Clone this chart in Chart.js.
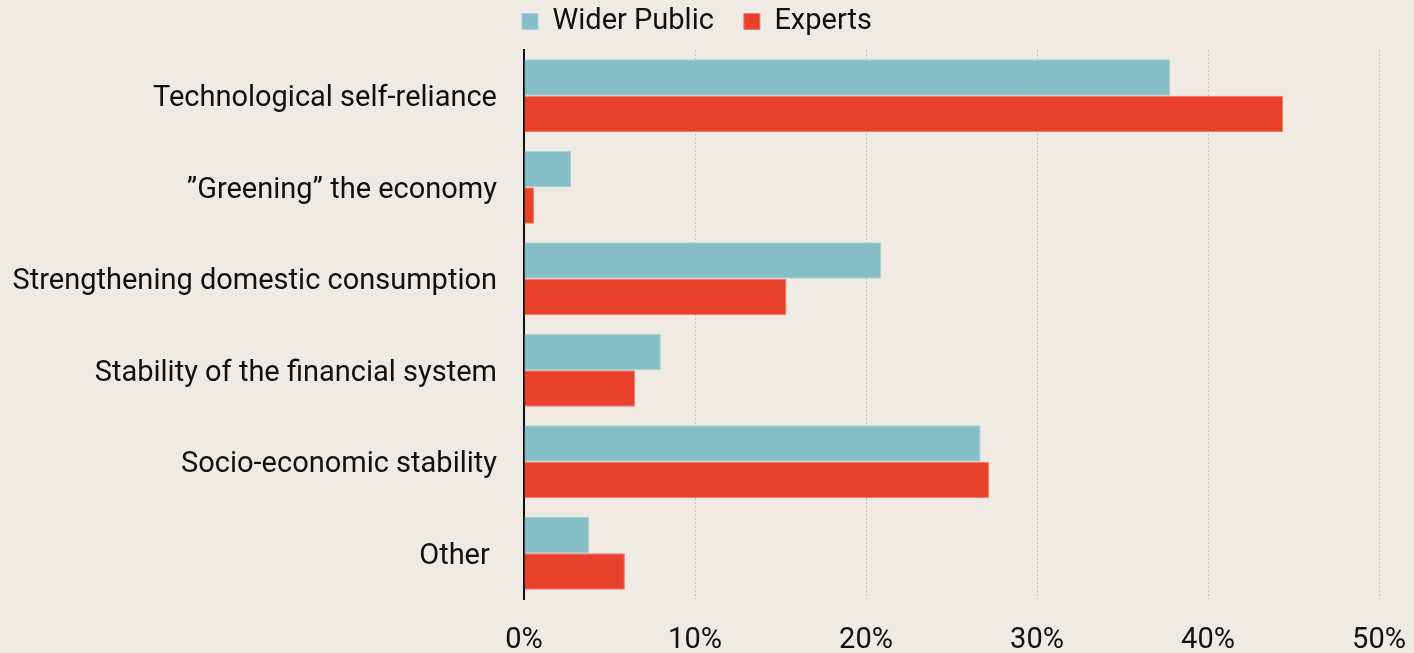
<!DOCTYPE html>
<html>
<head>
<meta charset="utf-8">
<script src="https://cdn.jsdelivr.net/npm/chart.js@4"></script>
<style>
  html, body { margin: 0; padding: 0; background: #efeae4; }
  #wrap { width: 1414px; height: 653px; }
</style>
</head>
<body>
<div id="wrap"><canvas id="barChart" width="1414" height="653"></canvas></div>
<script>
// categories and values (percent of respondents)
const categories = [
    'Technological self-reliance',
    '\u201dGreening\u201d the economy',
    'Strengthening domestic consumption',
    'Stability of the financial system',
    'Socio-economic stability',
    'Other '
];
const widerPublic = [37.8, 2.75, 20.9, 8.0, 26.7, 3.8];
const experts = [44.4, 0.6, 15.35, 6.5, 27.2, 5.9];
const seriesNames = ['Wider Public', 'Experts'];
const tickValues = [0, 10, 20, 30, 40, 50];

const FONT = 'Roboto';
const INK = '#111111';

// move the legend so it starts at the value axis, near the top edge
const legendShift = {
    id: 'legendShift',
    afterLayout(chart) {
        const lg = chart.legend;
        const pad = lg.options.labels.padding;
        lg.left = chart.chartArea.left - 2 - pad;
        lg.top = 7 - pad;
    }
};

let ctx = document.getElementById('barChart').getContext('2d');
let barChart = new Chart(ctx, {
    type: 'bar',
    data: {
        labels: categories,
        datasets: [{
            label: seriesNames[0],
            data: widerPublic,
            backgroundColor: '#86bec6',
            borderColor: '#a9d2d7',
            borderWidth: 1,
            categoryPercentage: 0.8,
            barPercentage: 1.0
        }, {
            label: seriesNames[1],
            data: experts,
            backgroundColor: '#e8402b',
            borderColor: '#f07865',
            borderWidth: 1,
            categoryPercentage: 0.8,
            barPercentage: 1.0
        }]
    },
    options: {
        indexAxis: 'y',
        responsive: false,
        animation: false,
        devicePixelRatio: 1,
        layout: { padding: { left: 0, right: 35, top: 0, bottom: 0 } },
        plugins: {
            legend: {
                position: 'top',
                align: 'start',
                maxHeight: 50,
                labels: {
                    boxWidth: 16,
                    boxHeight: 16,
                    padding: 30,
                    color: INK,
                    font: { family: FONT, size: 29 }
                }
            },
            tooltip: { enabled: false }
        },
        scales: {
            x: {
                min: 0,
                max: 50,
                afterBuildTicks(scale) {
                    scale.ticks = tickValues.map(v => ({ value: v }));
                },
                afterFit(scale) {
                    scale.height = 54;
                    scale.paddingLeft = 0;
                    scale.paddingRight = 0;
                },
                ticks: {
                    padding: 24,
                    color: INK,
                    font: { family: FONT, size: 29 },
                    callback: v => v + '%'
                },
                grid: {
                    drawTicks: false,
                    color: '#c6c2bd',
                    lineWidth: 1
                },
                border: { display: false, dash: [2, 2] }
            },
            y: {
                afterFit(scale) { scale.width = 524; },
                ticks: {
                    padding: 27,
                    labelOffset: 3,
                    color: INK,
                    font: { family: FONT, size: 29 }
                },
                grid: { display: false, drawTicks: false },
                border: { display: true, color: INK, width: 2 }
            }
        }
    },
    plugins: [legendShift]
});
</script>
</body>
</html>
